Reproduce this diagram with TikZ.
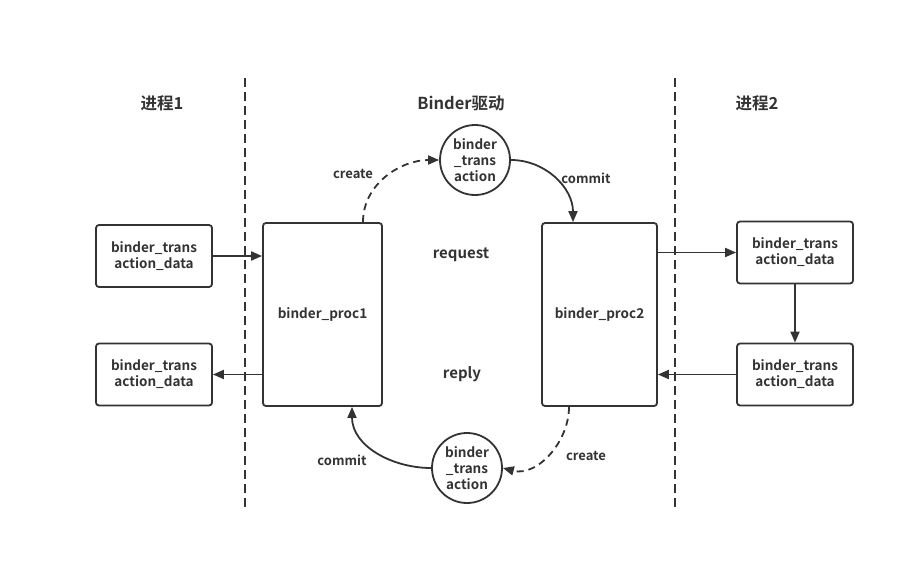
\documentclass[tikz,border=0pt]{standalone}
\usepackage{fontspec}
\setmainfont{Noto Sans CJK SC}[BoldFont={Noto Sans CJK SC Bold}]
\usetikzlibrary{arrows.meta}
\definecolor{ink}{HTML}{333333}
\tikzset{
  every node/.style={font=\fontsize{13.5}{16}\selectfont\bfseries, text=ink},
  databox/.style={draw=ink, line width=1.8pt, rounded corners=3pt, minimum width=116pt, minimum height=62pt, align=center, inner sep=0pt},
  procbox/.style={draw=ink, line width=1.8pt, rounded corners=3pt, minimum height=183pt, align=center, inner sep=0pt},
  txcircle/.style={draw=ink, line width=1.8pt, circle, minimum size=70pt, align=center, inner sep=0pt, font=\fontsize{13.5}{16}\selectfont\bfseries},
  conn/.style={draw=ink, line width=1.8pt, -{Triangle[length=11pt,width=9pt]}},
  divider/.style={draw=ink, line width=1.8pt, dash pattern=on 9pt off 5pt},
  heading/.style={font=\fontsize{16.5}{19}\selectfont\bfseries},
  lbl/.style={font=\fontsize{13}{15}\selectfont\bfseries}
}
\begin{document}
\begin{tikzpicture}[x=1pt,y=-1pt]
\useasboundingbox (0,0) rectangle (915,570);
% dividers
\coordinate (d1t) at (245,78); \coordinate (d1b) at (245,508);
\coordinate (d2t) at (675,78); \coordinate (d2b) at (675,508);
\draw[divider] (d1t) -- (d1b);
\draw[divider] (d2t) -- (d2b);
% headings
\node[heading] (h1) at (162,103) {进程1};
\node[heading] (h2) at (461,103) {Binder驱动};
\node[heading] (h3) at (757,103) {进程2};
% boxes
\node[databox] (L1) at (154,256) {binder\_trans\\action\_data};
\node[databox] (L2) at (154,374.5) {binder\_trans\\action\_data};
\node[databox] (R1) at (795,252.5) {binder\_trans\\action\_data};
\node[databox] (R2) at (795,374.5) {binder\_trans\\action\_data};
\node[procbox, minimum width=119pt] (P1) at (322.5,314.5) {binder\_proc1};
\node[procbox, minimum width=115pt] (P2) at (599.5,314.5) {binder\_proc2};
\node[txcircle] (C1) at (475,160) {binder\\\_trans\\action};
\node[txcircle] (C2) at (467,468) {binder\\\_trans\\action};
% labels
\node[lbl, font=\fontsize{15}{17}\selectfont\bfseries] (req) at (461,255) {request};
\node[lbl, font=\fontsize{15}{17}\selectfont\bfseries] (rep) at (462,374) {reply};
\node[lbl] (cr1) at (353,174) {create};
\node[lbl] (cm1) at (586,178) {commit};
\node[lbl] (cr2) at (586,456) {create};
\node[lbl] (cm2) at (342,460) {commit};
% straight connectors
\draw[conn] (L1.east) -- (P1.west |- L1.east);
\draw[conn] (P1.west |- L2.east) -- (L2.east);
\draw[conn] (P2.east |- R1.west) -- (R1.west);
\draw[conn] (R1.south) -- (R2.north);
\draw[conn] (R2.west) -- (P2.east |- R2.west);
% curved connectors
\draw[conn, dash pattern=on 7pt off 5pt] (P1.north -| 363,0) to[out=90,in=180] (C1.west);
\draw[conn] (C1.east) to[out=0,in=90] (P2.north -| 573,0);
\draw[conn, dash pattern=on 7pt off 5pt] (P2.south -| 569,0) to[out=-90,in=-15] (C2.east);
\draw[conn] (C2.west) to[out=180,in=-90] (P1.south -| 352,0);
\end{tikzpicture}
\end{document}
